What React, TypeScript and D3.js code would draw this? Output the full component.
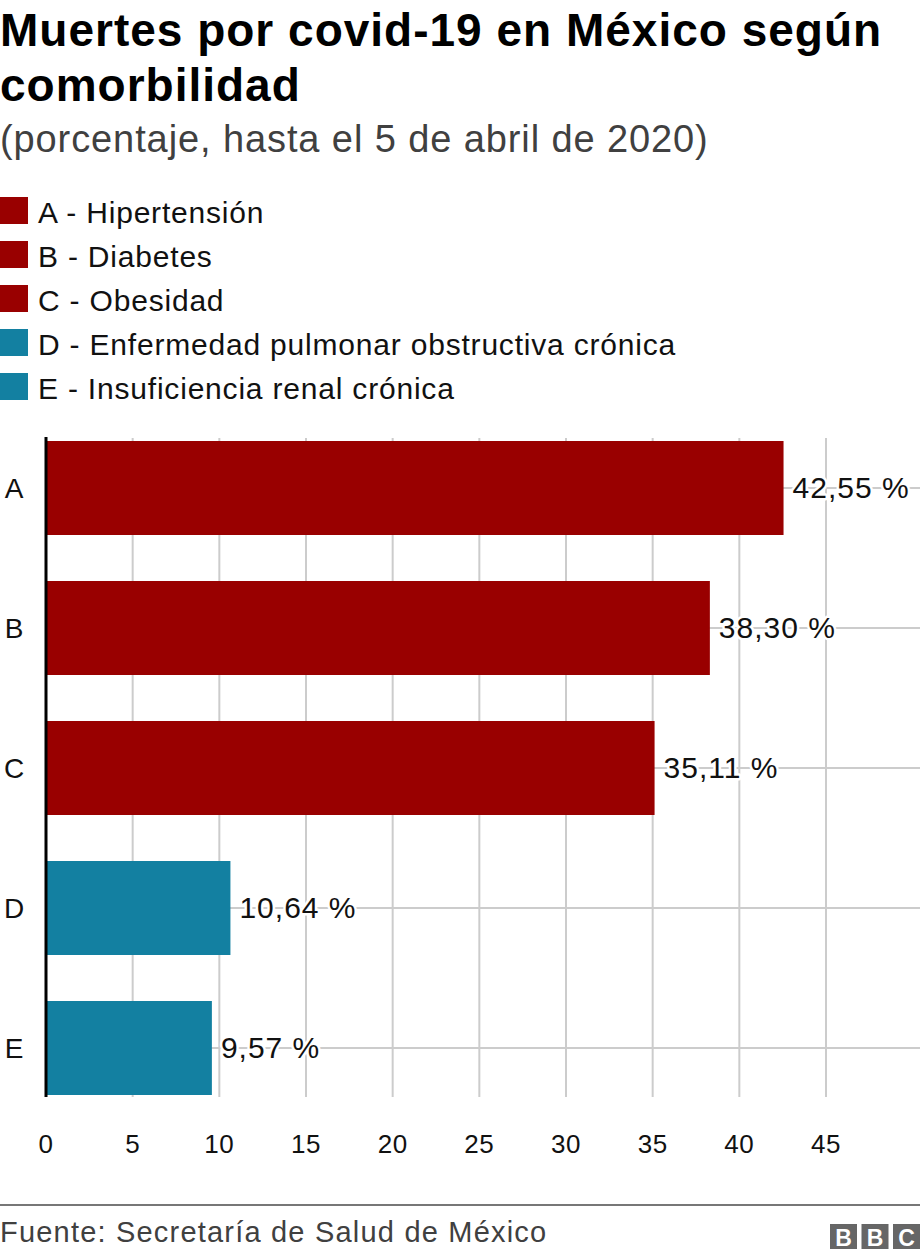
import React from "react";
import * as d3 from "d3";

const categories = ["A", "B", "C", "D", "E"];
const values = [42.55, 38.3, 35.11, 10.64, 9.57];
const valueLabels = ["42,55 %", "38,30 %", "35,11 %", "10,64 %", "9,57 %"];
const groups = ["red", "red", "red", "teal", "teal"];
const legendLabels = [
  "A - Hipertensión",
  "B - Diabetes",
  "C - Obesidad",
  "D - Enfermedad pulmonar obstructiva crónica",
  "E - Insuficiencia renal crónica",
];
const xTicks = [0, 5, 10, 15, 20, 25, 30, 35, 40, 45];

const colors: Record<string, string> = { red: "#990000", teal: "#1380A1" };
const FONT = "'Liberation Sans', Arial, Helvetica, sans-serif";

export default function App() {
  const W = 920;
  const H = 1260;
  const x = d3.scaleLinear().domain([0, 45]).range([46, 826]);
  const yb = d3
    .scaleBand()
    .domain(categories)
    .range([418, 1118])
    .paddingInner(46 / 140)
    .paddingOuter(23 / 140);
  const cy = (c: string) => yb(c)! + yb.bandwidth() / 2;

  return (
    <svg width={W} height={H} style={{ position: "absolute", left: 0, top: 0, background: "#fff" }} fontFamily={FONT}>
      <text x={0} y={46} fontSize={46} fontWeight="bold" fill="#000" letterSpacing={1}>Muertes por covid-19 en México según</text>
      <text x={0} y={101} fontSize={46} fontWeight="bold" fill="#000" letterSpacing={1}>comorbilidad</text>
      <text x={0} y={152} fontSize={38} fill="#404040" letterSpacing={0.9}>(porcentaje, hasta el 5 de abril de 2020)</text>

      {legendLabels.map((l, i) => (
        <g key={l} transform={`translate(0, ${197 + i * 44})`}>
          <rect x={0} y={0} width={28} height={27} fill={colors[groups[i]]} />
          <text x={38} y={26} fontSize={30} fill="#111" letterSpacing={0.8}>{l}</text>
        </g>
      ))}

      {xTicks.map((t) => (
        <line key={"g" + t} x1={x(t)} x2={x(t)} y1={438} y2={1097} stroke="#cccccc" strokeWidth={2} />
      ))}
      {categories.map((c) => (
        <line key={"h" + c} x1={x(0)} x2={W} y1={cy(c)} y2={cy(c)} stroke="#cccccc" strokeWidth={2} />
      ))}

      {categories.map((c, i) => (
        <rect key={"b" + c} x={x(0)} y={yb(c)!} width={x(values[i]) - x(0)} height={yb.bandwidth()} fill={colors[groups[i]]} />
      ))}

      <line x1={x(0)} x2={x(0)} y1={437} y2={1097} stroke="#000" strokeWidth={3} />

      {categories.map((c) => (
        <text key={"c" + c} x={14} y={cy(c) + 10} fontSize={28} textAnchor="middle" fill="#111">{c}</text>
      ))}

      {categories.map((c, i) => (
        <text key={"v" + c} x={x(values[i]) + 9} y={cy(c) + 10} fontSize={30} fill="#111" letterSpacing={1}
          stroke="#fff" strokeWidth={5} paintOrder="stroke" strokeLinejoin="round">{valueLabels[i]}</text>
      ))}

      {xTicks.map((t) => (
        <text key={"t" + t} x={x(t)} y={1153} fontSize={26} textAnchor="middle" fill="#111" letterSpacing={0.5}>{t}</text>
      ))}

      <line x1={0} x2={W} y1={1205} y2={1205} stroke="#777" strokeWidth={2} />
      <text x={0} y={1242} fontSize={29} fill="#404040" letterSpacing={1.2}>Fuente: Secretaría de Salud de México</text>

      {["B", "B", "C"].map((l, i) => (
        <g key={"bbc" + i} transform={`translate(${830 + i * 31.5}, 1224)`}>
          <rect x={0} y={0} width={27} height={25} fill="#666" />
          <text x={13.5} y={21.5} fontSize={23} fontWeight="bold" textAnchor="middle" fill="#fff">{l}</text>
        </g>
      ))}
    </svg>
  );
}
